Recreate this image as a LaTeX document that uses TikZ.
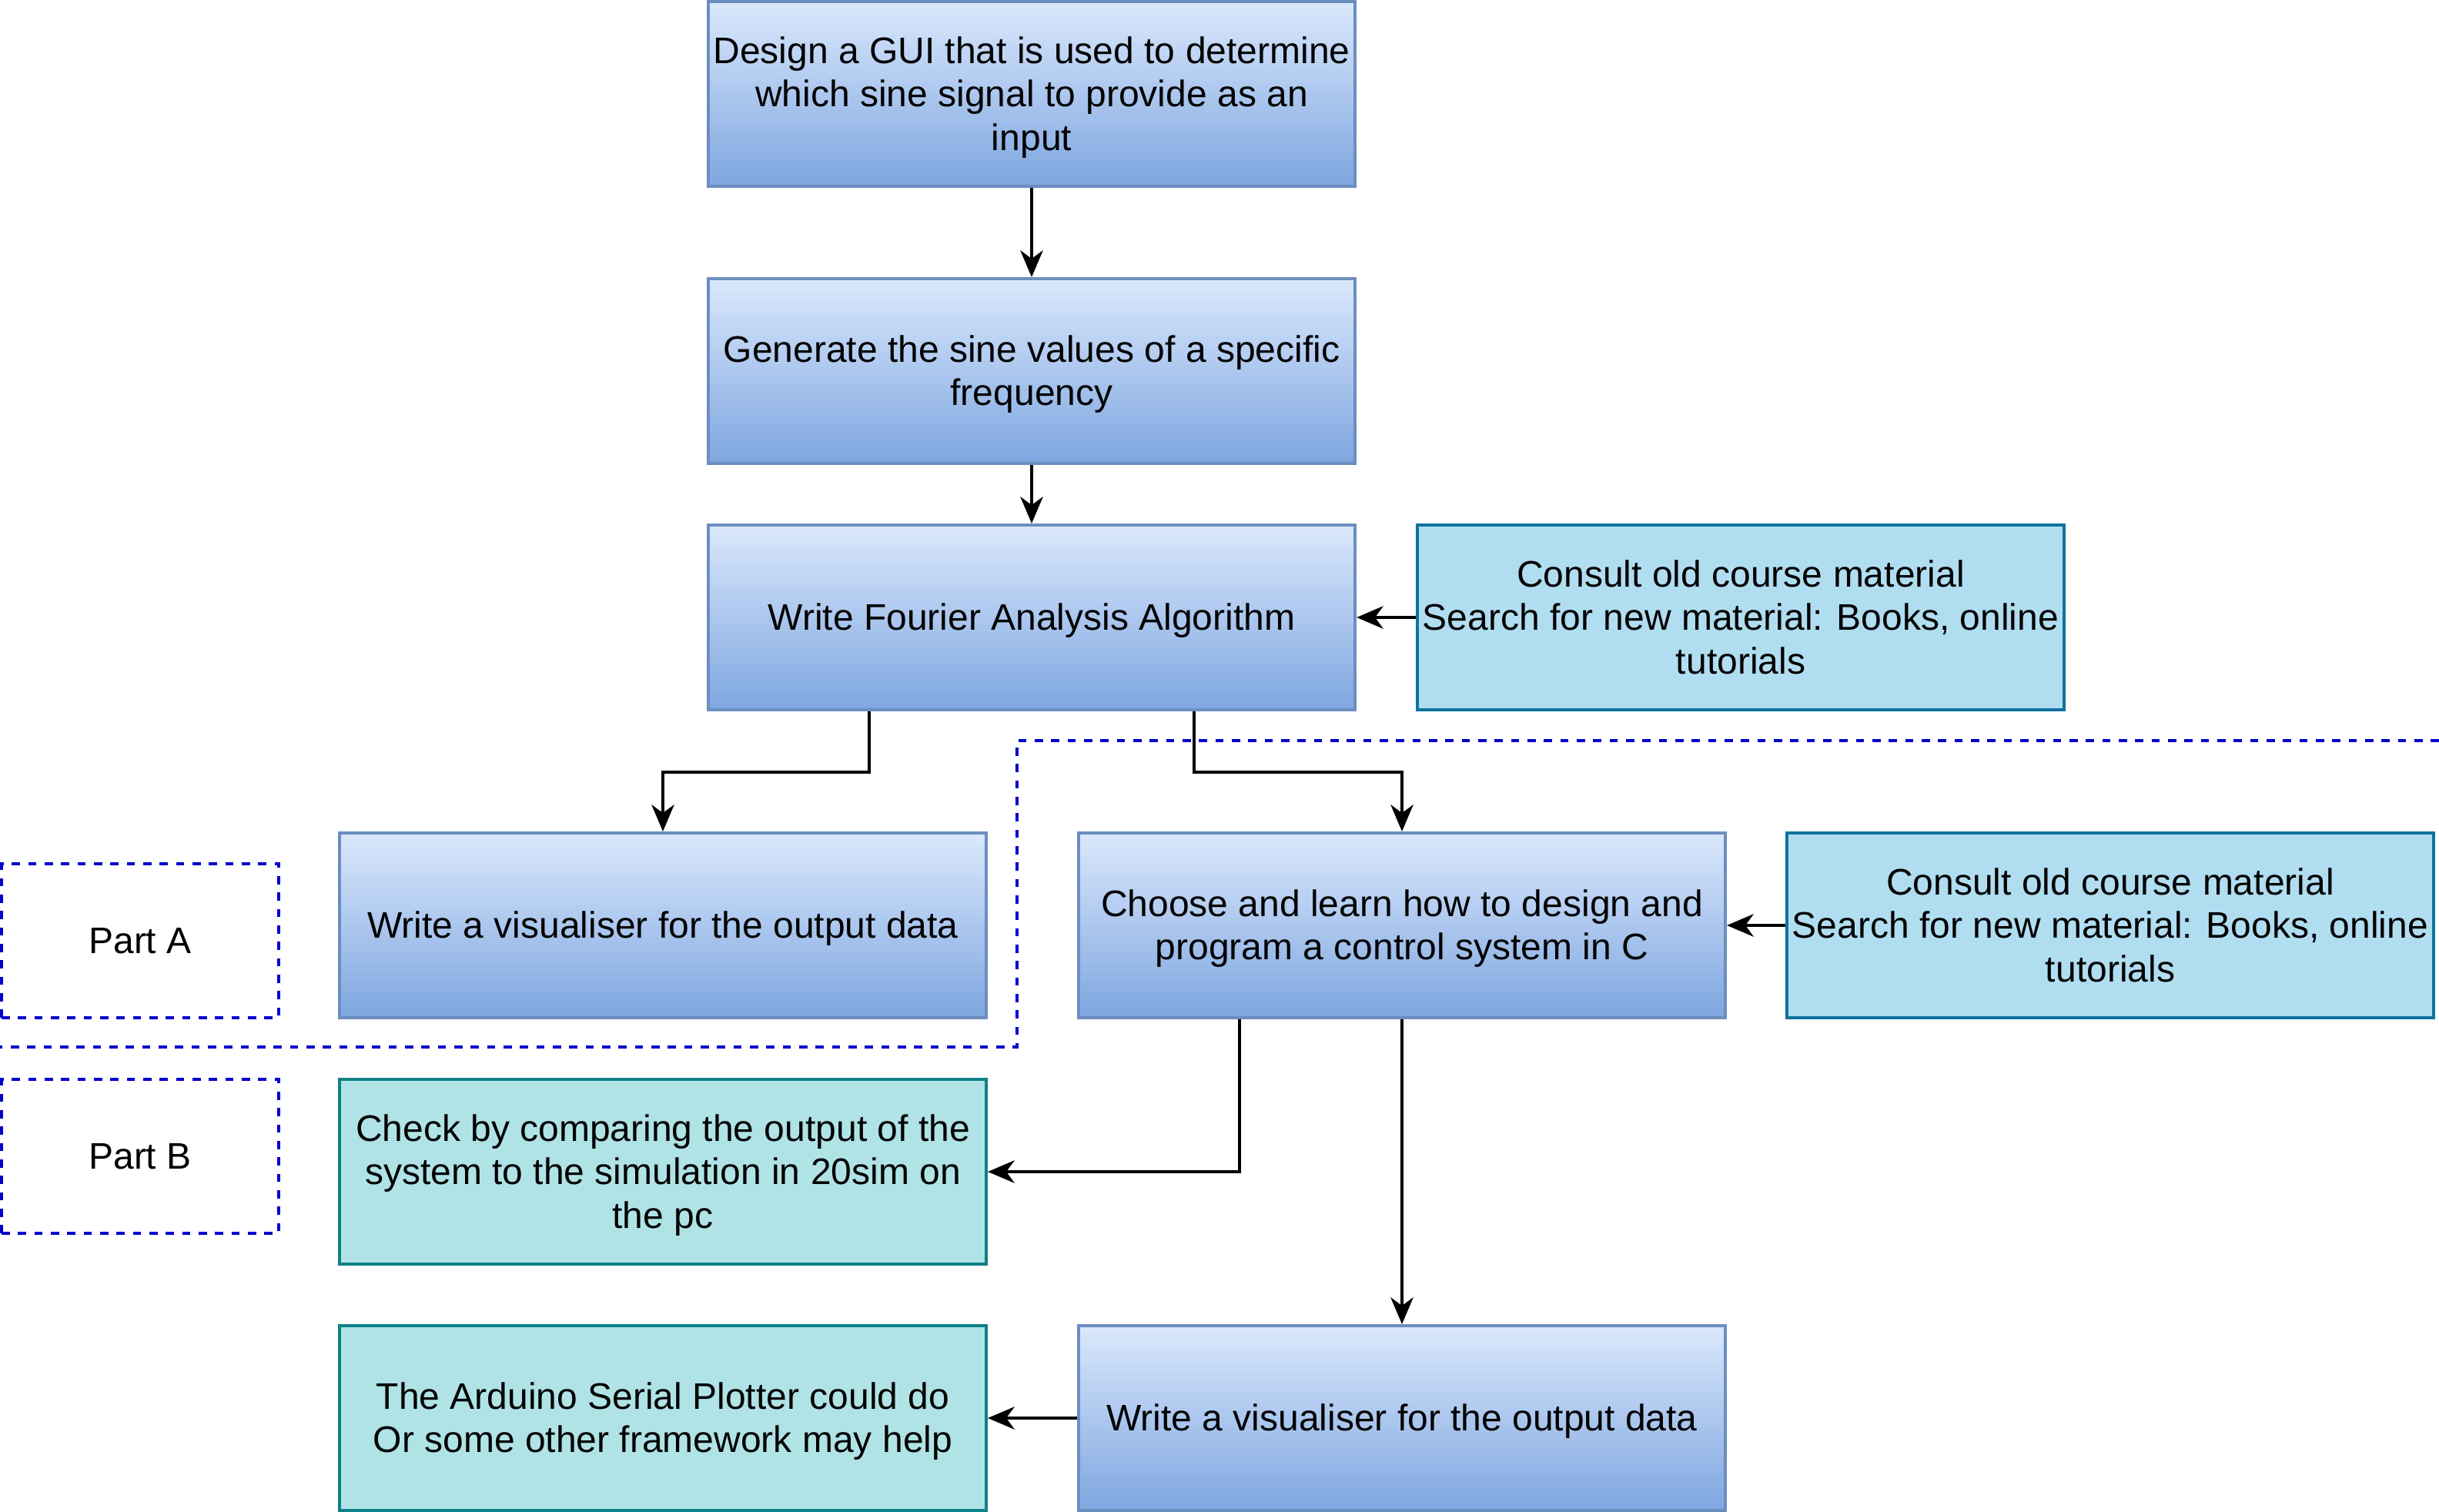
\documentclass[tikz,border=0pt]{standalone}
\usepackage{fontspec}
\setmainfont{Liberation Sans}
\usetikzlibrary{arrows.meta,calc}
\definecolor{bluetop}{HTML}{DAE8FC}
\definecolor{bluebot}{HTML}{7EA6E0}
\definecolor{blueline}{HTML}{6C8EBF}
\definecolor{infofill}{HTML}{B1DDF0}
\definecolor{infoline}{HTML}{10739E}
\definecolor{notefill}{HTML}{B0E3E6}
\definecolor{noteline}{HTML}{0E8088}
\definecolor{partline}{HTML}{0000CC}
\newcommand\lnstrut{\rule[-2.28pt]{0pt}{10.8pt}}
\begin{document}
\begin{tikzpicture}[x=0.75pt,y=-0.75pt,font=\fontsize{9}{10.6}\selectfont,
  every node/.style={execute at begin node=\lnstrut,execute at end node=\lnstrut},
  task/.style={draw=blueline,line width=0.75pt,top color=bluetop,bottom color=bluebot,
    minimum width=157.5pt,minimum height=45pt,inner sep=0pt,align=center},
  info/.style={task,draw=infoline,fill=infofill,top color=infofill,bottom color=infofill},
  note/.style={task,draw=noteline,fill=notefill,top color=notefill,bottom color=notefill},
  part/.style={draw=partline,line width=0.75pt,dash pattern=on 2pt off 2pt},
  partbox/.style={part,minimum width=67.5pt,minimum height=37.5pt,inner sep=0pt},
  arr/.style={-{Stealth[length=6.5pt,width=5.5pt,inset=2pt]},line width=0.75pt}]
  %\draw[step=10,gray,very thin] (0,0) grid (792,491);
  \useasboundingbox (0,0) rectangle (792,491);
  \node[task] (GUI) at (335,30.5) {\lnstrut Design a GUI that is used to determine\\which sine signal to provide as an\\input};
  \node[task] (Sine) at (335,120.5) {\lnstrut Generate the sine values of a specific\\frequency};
  \node[task] (FFT) at (335,200.5) {Write Fourier Analysis Algorithm};
  \node[info] (Mat1) at (565.25,200.5) {\lnstrut Consult old course material\\Search for new material: Books, online\\tutorials};
  \node[task] (VisA) at (215.25,300.5) {Write a visualiser for the output data};
  \node[task] (Ctrl) at (455.25,300.5) {\lnstrut Choose and learn how to design and\\program a control system in C};
  \node[info] (Mat2) at (685.25,300.5) {\lnstrut Consult old course material\\Search for new material: Books, online\\tutorials};
  \node[partbox] (PartA) at (45.5,305.5) {Part A};
  \node[partbox] (PartB) at (45.5,375.5) {Part B};
  \node[note] (Check) at (215.25,380.5) {\lnstrut Check by comparing the output of the\\system to the simulation in 20sim on\\the pc};
  \node[note] (Ard) at (215.25,460.5) {\lnstrut The Arduino Serial Plotter could do\\Or some other framework may help};
  \node[task] (VisB) at (455.25,460.5) {Write a visualiser for the output data};
  \draw[part] (792,240.5) -- (330.25,240.5) -- (330.25,340) -- (0,340);
  \draw[arr] (GUI) -- (Sine);
  \draw[arr] (Sine) -- (FFT);
  \draw[arr] (Mat1) -- (FFT);
  \draw[arr] ($(FFT.south west)!0.25!(FFT.south east)$) -- ++(0,19.75) -| (VisA.north);
  \draw[arr] ($(FFT.south west)!0.75!(FFT.south east)$) -- ++(0,19.75) -| (Ctrl.north);
  \draw[arr] (Mat2) -- (Ctrl);
  \draw[arr] ($(Ctrl.south west)!0.25!(Ctrl.south east)$) |- (Check.east);
  \draw[arr] (Ctrl) -- (VisB);
  \draw[arr] (VisB) -- (Ard);
\end{tikzpicture}
\end{document}
